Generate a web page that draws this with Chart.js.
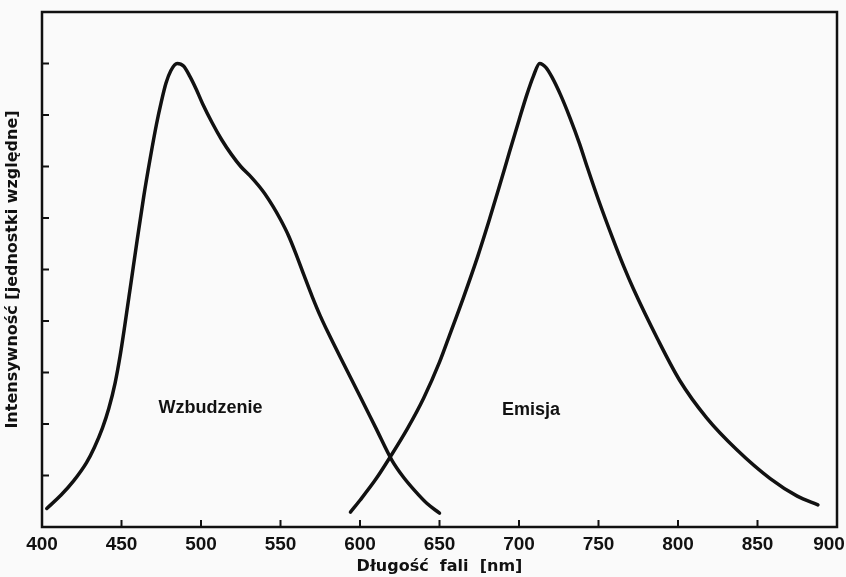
<!DOCTYPE html>
<html>
<head>
<meta charset="utf-8">
<script src="https://cdn.jsdelivr.net/npm/chart.js@4/dist/chart.umd.min.js"></script>
<style>
  html, body { margin: 0; padding: 0; background: #fafafa; }
  #wrap { width: 846px; height: 577px; }
</style>
</head>
<body>
<div id="wrap"><canvas id="c" width="846" height="577"></canvas></div>
<script>
// ---- data ----
const excitationWavelength = [403, 412, 420, 428, 433, 438, 442, 446, 449, 452, 456, 460, 464, 468, 472, 475, 478, 481, 485, 489, 493, 497, 501, 507, 513, 519, 525, 532, 539, 545, 550, 555, 560, 565, 570, 575, 580, 590, 600, 610, 620, 627, 634, 642, 650];
const excitationIntensity  = [0.36, 0.62, 0.9, 1.25, 1.55, 1.92, 2.3, 2.8, 3.3, 3.9, 4.75, 5.6, 6.42, 7.15, 7.82, 8.25, 8.62, 8.86, 9.0, 8.95, 8.75, 8.5, 8.22, 7.85, 7.52, 7.24, 7.0, 6.78, 6.52, 6.24, 5.97, 5.66, 5.28, 4.87, 4.47, 4.1, 3.77, 3.15, 2.54, 1.92, 1.3, 0.98, 0.72, 0.46, 0.27];
const emissionWavelength   = [594, 600, 610, 619, 630, 640, 650, 657, 665, 674, 681, 688, 694, 700, 705, 709, 713, 717, 721, 726, 732, 738, 743, 750, 759, 766, 772, 787, 801, 818, 837, 858, 875, 888];
const emissionIntensity    = [0.29, 0.52, 0.93, 1.36, 1.92, 2.5, 3.2, 3.78, 4.45, 5.25, 5.93, 6.65, 7.28, 7.9, 8.4, 8.75, 9.0, 8.92, 8.72, 8.4, 7.95, 7.45, 6.98, 6.35, 5.6, 5.05, 4.62, 3.66, 2.85, 2.12, 1.5, 0.94, 0.6, 0.43];
const xTickValues = [400, 450, 500, 550, 600, 650, 700, 750, 800, 850, 900];
const yTickValues = [1, 2, 3, 4, 5, 6, 7, 8, 9];
const seriesNames = ['Wzbudzenie', 'Emisja'];
const seriesLabelAt = [[506, 2.31], [707.5, 2.27]];
const xTitle = 'Długość  fali  [nm]';
const yTitle = 'Intensywność [jednostki względne]';

const INK = '#111111';

function pts(xs, ys) { return xs.map((x, i) => ({ x: x, y: ys[i] })); }

const framePlugin = {
  id: 'frame',
  beforeDraw(chart) {
    // keep the last x tick label inside the canvas, as in the original print
    const items = chart.scales.x.getLabelItems();
    const last = items[items.length - 1];
    if (last && !last._shifted) {
      last.options.translation = [last.options.translation[0] - 8, last.options.translation[1]];
      last._shifted = true;
    }
  },
  beforeDatasetsDraw(chart) {
    const { ctx, chartArea: a, scales } = chart;
    ctx.save();
    ctx.strokeStyle = INK;
    ctx.lineWidth = 2.5;
    ctx.strokeRect(a.left, a.top, a.right - a.left, a.bottom - a.top);
    ctx.lineWidth = 2;
    ctx.beginPath();
    // inward tick marks from the library's scales
    scales.x.ticks.forEach(t => {
      const px = scales.x.getPixelForValue(t.value);
      ctx.moveTo(px, a.bottom);
      ctx.lineTo(px, a.bottom - 7);
    });
    scales.y.ticks.forEach(t => {
      if (t.value <= 0 || t.value >= 10) return;
      const py = scales.y.getPixelForValue(t.value);
      ctx.moveTo(a.left, py);
      ctx.lineTo(a.left + 7, py);
    });
    ctx.stroke();
    ctx.restore();
  },
  afterDatasetsDraw(chart) {
    const { ctx, scales } = chart;
    ctx.save();
    ctx.fillStyle = INK;
    ctx.font = 'bold 18px "Liberation Sans", Arial, sans-serif';
    ctx.textAlign = 'center';
    ctx.textBaseline = 'middle';
    seriesNames.forEach((name, i) => {
      const [lx, ly] = seriesLabelAt[i];
      ctx.fillText(name, scales.x.getPixelForValue(lx), scales.y.getPixelForValue(ly));
    });
    ctx.restore();
  }
};

new Chart(document.getElementById('c'), {
  type: 'line',
  data: {
    datasets: [
      { label: seriesNames[0], data: pts(excitationWavelength, excitationIntensity) },
      { label: seriesNames[1], data: pts(emissionWavelength, emissionIntensity) }
    ]
  },
  options: {
    responsive: false,
    animation: false,
    layout: { padding: { top: 12, right: 9, left: 0, bottom: 0 } },
    elements: {
      line: { borderColor: INK, borderWidth: 3.5, cubicInterpolationMode: 'monotone', fill: false, borderCapStyle: 'round', borderJoinStyle: 'round' },
      point: { radius: 0, hoverRadius: 0 }
    },
    plugins: { legend: { display: false }, tooltip: { enabled: false } },
    scales: {
      x: {
        type: 'linear',
        min: 400, max: 900,
        afterBuildTicks: s => { s.ticks = xTickValues.map(v => ({ value: v })); },
        afterFit: s => { s.height = 50; s.paddingLeft = 0; s.paddingRight = 0; },
        grid: { display: false, drawTicks: false },
        border: { display: false },
        ticks: {
          color: INK,
          padding: 6,
          maxRotation: 0,
          font: { family: '"Liberation Sans Narrow", "Liberation Sans", Arial, sans-serif', size: 19, weight: 'bold' }
        },
        title: {
          display: true,
          text: xTitle,
          color: INK,
          padding: { top: 0, bottom: 1 },
          font: { family: '"DejaVu Sans", sans-serif', size: 16, weight: 'bold' }
        }
      },
      y: {
        type: 'linear',
        min: 0, max: 10,
        afterBuildTicks: s => { s.ticks = yTickValues.map(v => ({ value: v })); },
        afterFit: s => { s.width = 42; s.paddingTop = 0; s.paddingBottom = 0; },
        grid: { display: false, drawTicks: false },
        border: { display: false },
        ticks: { display: false },
        title: {
          display: true,
          text: yTitle,
          color: INK,
          padding: { top: 3, bottom: 0 },
          font: { family: '"DejaVu Sans", sans-serif', size: 16, weight: 'bold' }
        }
      }
    }
  },
  plugins: [framePlugin]
});
</script>
</body>
</html>
